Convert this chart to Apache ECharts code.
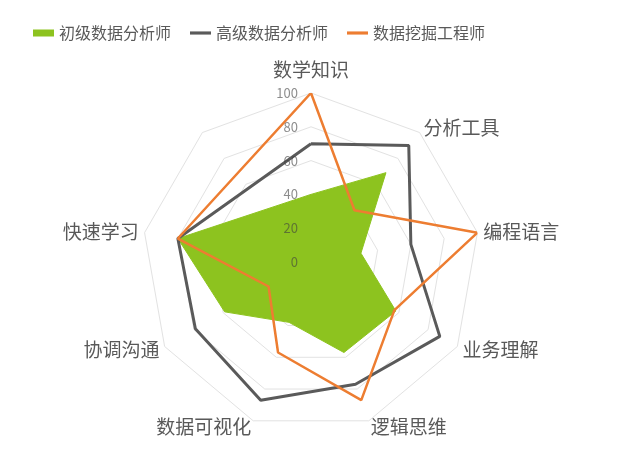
<!DOCTYPE html>
<html><head><meta charset="utf-8">
<script src="https://cdn.jsdelivr.net/npm/echarts@6/dist/echarts.min.js"></script>
<style>html,body{margin:0;padding:0;background:#fff}#chart{width:640px;height:452px}</style>
</head><body><div id="chart"></div>
<script>
const categories = ['数学知识','分析工具','编程语言','业务理解','逻辑思维','数据可视化','协调沟通','快速学习'];
const seriesNames = ['初级数据分析师','高级数据分析师','数据挖掘工程师'];
const juniorValues = [40, 69, 30, 58, 57, 38, 59, 80];
const seniorValues = [70, 90, 60, 88, 77, 87, 79, 80];
const minerValues  = [100, 40, 100, 57, 87, 57, 29, 80];
const radiusTicks = [0, 20, 40, 60, 80, 100];

const FONT = "'Noto Sans CJK SC', 'Noto Sans', sans-serif";
const CENTER = [311, 262];
const RADIUS = 169;
const TICK_MIN = radiusTicks[0];
const TICK_MAX = radiusTicks[radiusTicks.length - 1];

// angle categories: the chart has a ninth, unlabeled slot
const angleCats = categories.concat(['']);
// radar indicators go counter-clockwise from the top
const radarNames = [categories[0], ''].concat(categories.slice(1).reverse());

function toPolar(vals) {
  const pts = vals.map((v, i) => [v, categories[i]]);
  pts.push([vals[0], categories[0]]);
  return pts;
}

const lineIcon = 'path://M0,0 L20,0 L20,3 L0,3 Z';

const chart = echarts.init(document.getElementById('chart'), null, {renderer: 'canvas'});
chart.setOption({
  animation: false,
  backgroundColor: '#ffffff',
  textStyle: { fontFamily: FONT },
  legend: {
    top: 20, left: 28, itemWidth: 21, itemHeight: 7, itemGap: 19,
    symbolKeepAspect: true,
    textStyle: { color: '#595959', fontSize: 16, fontFamily: FONT },
    data: [
      { name: seriesNames[0], icon: 'rect' },
      { name: seriesNames[1], icon: lineIcon },
      { name: seriesNames[2], icon: lineIcon }
    ]
  },
  radar: [
    {
      center: CENTER, radius: RADIUS, startAngle: 90, splitNumber: 5, shape: 'polygon',
      indicator: radarNames.map(n => ({ name: n, min: TICK_MIN, max: TICK_MAX })),
      axisName: { color: '#595959', fontSize: 19, fontFamily: FONT, padding: [0, 0, 8, 0] },
      nameGap: 6,
      axisLine: { show: false },
      axisTick: { show: false },
      axisLabel: { show: false },
      splitLine: { lineStyle: { color: '#e2e2e2', width: 1 } },
      splitArea: { show: false },
      z: 0
    },
    {
      center: CENTER, radius: RADIUS, startAngle: 90, splitNumber: 5, shape: 'polygon',
      indicator: radarNames.map((n, i) => ({
        name: '', min: TICK_MIN, max: TICK_MAX,
        axisLabel: { show: i === 0 }
      })),
      axisName: { show: false },
      axisLine: { show: false },
      axisTick: { show: false },
      axisLabel: { show: false, color: 'rgba(64,64,64,0.6)', fontSize: 13, margin: 13, fontFamily: FONT },
      splitLine: { show: false },
      splitArea: { show: false },
      z: 10
    }
  ],
  polar: { center: CENTER, radius: RADIUS },
  angleAxis: {
    type: 'category', data: angleCats, boundaryGap: true,
    startAngle: 90 + 180 / angleCats.length, clockwise: true,
    axisLine: { show: false }, axisTick: { show: false }, axisLabel: { show: false }, splitLine: { show: false }
  },
  radiusAxis: {
    min: TICK_MIN, max: TICK_MAX, interval: radiusTicks[1] - radiusTicks[0],
    axisLine: { show: false }, axisTick: { show: false }, splitLine: { show: false },
    axisLabel: { show: false }
  },
  series: [
    {
      name: seriesNames[0], type: 'line', coordinateSystem: 'polar', data: toPolar(juniorValues),
      symbol: 'none', clip: false,
      itemStyle: { color: '#8DC31F' },
      lineStyle: { color: '#8DC31F', width: 1 },
      areaStyle: { color: '#8DC31F', opacity: 1 },
      z: 2
    },
    {
      name: seriesNames[1], type: 'line', coordinateSystem: 'polar', data: toPolar(seniorValues),
      symbol: 'none', clip: false,
      itemStyle: { color: '#5a5a5a' },
      lineStyle: { color: '#5a5a5a', width: 3 },
      z: 3
    },
    {
      name: seriesNames[2], type: 'line', coordinateSystem: 'polar', data: toPolar(minerValues),
      symbol: 'none', clip: false,
      itemStyle: { color: '#ED7D31' },
      lineStyle: { color: '#ED7D31', width: 2.5 },
      z: 4
    }
  ]
});
</script>
</body></html>
